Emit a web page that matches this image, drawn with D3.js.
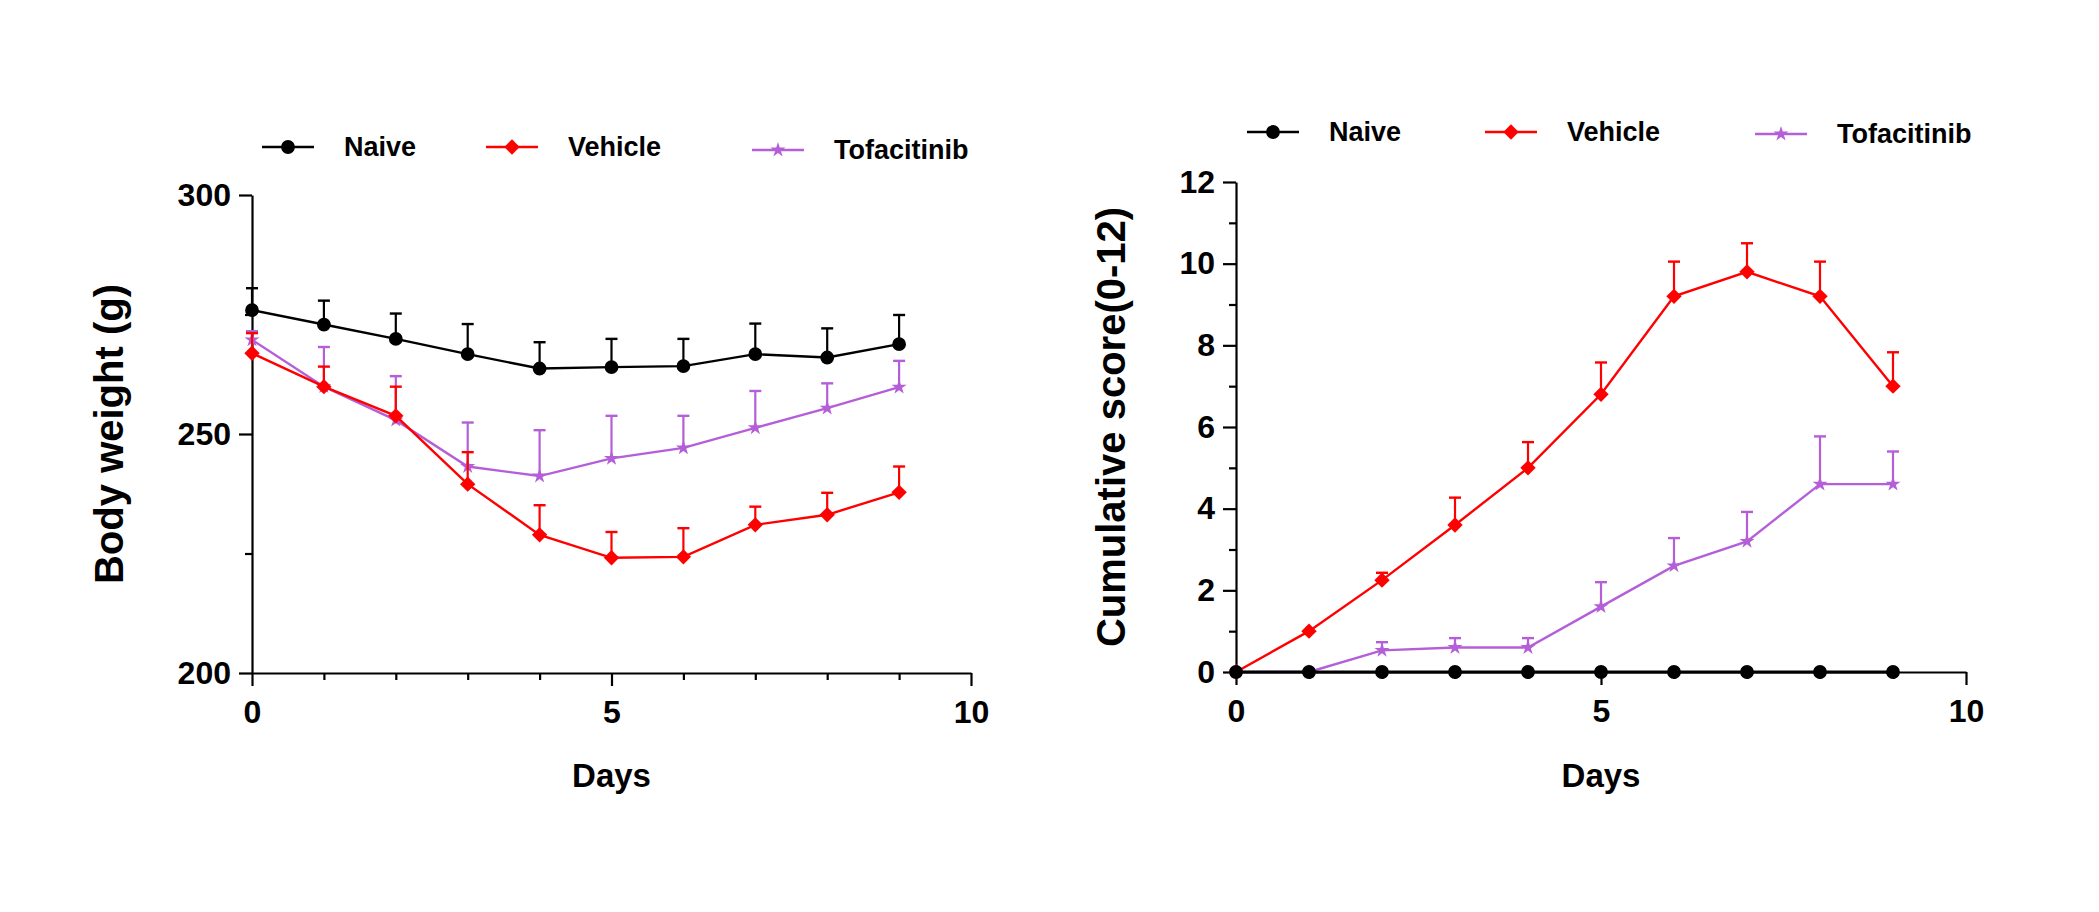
<!DOCTYPE html>
<html>
<head>
<meta charset="utf-8">
<script src="https://cdn.jsdelivr.net/npm/d3@7"></script>
<style>
  body { margin: 0; background: #fff; }
  svg { display: block; }
</style>
</head>
<body>
<div id="plot"></div>
<script>
// Days of treatment
var days = [0, 1, 2, 3, 4, 5, 6, 7, 8, 9];
var groups = ["Naive", "Vehicle", "Tofacitinib"];

// Body weight (g), mean and SEM (upper bar only)
var bwNaive = [275.9, 272.9, 269.9, 266.7, 263.7, 264.0, 264.2, 266.7, 266.0, 268.8];
var bwNaiveErr = [4.6, 5.0, 5.3, 6.3, 5.5, 5.9, 5.7, 6.4, 6.1, 6.1];
var bwVehicle = [266.9, 259.9, 253.8, 239.5, 228.9, 224.1, 224.3, 231.0, 233.1, 237.8];
var bwVehicleErr = [4.2, 4.2, 6.1, 6.7, 6.2, 5.4, 6.0, 3.8, 4.6, 5.4];
var bwTofa = [269.7, 259.9, 252.9, 243.2, 241.2, 244.9, 247.1, 251.3, 255.4, 259.8];
var bwTofaErr = [1.8, 8.3, 9.2, 9.2, 9.6, 8.9, 6.7, 7.7, 5.2, 5.5];

// Cumulative score (0-12), mean and SEM
var scNaive = [0, 0, 0, 0, 0, 0, 0, 0, 0, 0];
var scNaiveErr = [0, 0, 0, 0, 0, 0, 0, 0, 0, 0];
var scVehicle = [0, 1.0, 2.25, 3.6, 5.0, 6.8, 9.2, 9.8, 9.2, 7.0];
var scVehicleErr = [0, 0, 0.18, 0.67, 0.63, 0.78, 0.85, 0.7, 0.85, 0.83];
var scTofa = [0, 0, 0.53, 0.6, 0.6, 1.6, 2.6, 3.2, 4.6, 4.6];
var scTofaErr = [0, 0, 0.2, 0.23, 0.23, 0.6, 0.68, 0.72, 1.17, 0.8];

// Axis ticks
var xMajor = [0, 5, 10];
var xMinor = [1, 2, 3, 4, 6, 7, 8, 9];
var bwMajor = [200, 250, 300];
var bwMinor = [225, 275];
var scMajor = [0, 2, 4, 6, 8, 10, 12];
var scMinor = [1, 3, 5, 7, 9, 11];

var W = 2099, H = 912;
var font = "'Liberation Sans', Arial, sans-serif";
var colors = { Naive: "#000000", Vehicle: "#ff0000", Tofacitinib: "#b45fd8" };

var svg = d3.select("div#plot")
    .append("svg")
        .attr("width", W)
        .attr("height", H)
        .attr("viewBox", "0 0 " + W + " " + H);

svg.append("rect").attr("width", W).attr("height", H).attr("fill", "#fff");

function markerPath(name) {
    if (name == "Naive") return d3.symbol(d3.symbolCircle, 150)();
    if (name == "Vehicle") return d3.symbol(d3.symbolSquare, 118)();
    return d3.symbol(d3.symbolStar, 70)();
}
function markerRotate(name) {
    return name == "Vehicle" ? " rotate(45)" : "";
}

function drawPanel(p) {
    var x = d3.scaleLinear().domain([0, 10]).range(p.xRange);
    var y = d3.scaleLinear().domain(p.yDomain).range(p.yRange);
    var g = svg.append("g");

    // Axes: major ticks with labels, minor ticks without
    var xAxis = g.append("g")
        .attr("transform", "translate(0," + p.yRange[0] + ")")
        .call(d3.axisBottom(x).tickValues(xMajor).tickSize(13).tickSizeOuter(0).tickPadding(14)
            .tickFormat(d3.format("d")));
    g.append("g")
        .attr("transform", "translate(0," + p.yRange[0] + ")")
        .call(d3.axisBottom(x).tickValues(xMinor).tickSize(7).tickSizeOuter(0).tickFormat(""))
        .select(".domain").remove();

    var yAxis = g.append("g")
        .attr("transform", "translate(" + p.xRange[0] + ",0)")
        .call(d3.axisLeft(y).tickValues(p.yMajor).tickSize(13).tickSizeOuter(0).tickPadding(8)
            .tickFormat(d3.format("d")));
    g.append("g")
        .attr("transform", "translate(" + p.xRange[0] + ",0)")
        .call(d3.axisLeft(y).tickValues(p.yMinor).tickSize(7).tickSizeOuter(0).tickFormat(""))
        .select(".domain").remove();

    g.selectAll(".domain, .tick line")
        .attr("stroke", "#000")
        .attr("stroke-width", 2.2);
    g.selectAll(".tick text")
        .attr("font-family", font)
        .attr("font-weight", "bold")
        .attr("font-size", 32)
        .attr("fill", "#000");

    // Axis titles
    g.append("text")
        .attr("transform", "translate(" + p.titleX + "," + ((p.yRange[0] + p.yRange[1]) / 2) + ") rotate(-90)")
        .attr("text-anchor", "middle")
        .attr("font-family", font)
        .attr("font-weight", "bold")
        .attr("font-size", 40)
        .text(p.yTitle);
    g.append("text")
        .attr("x", (p.xRange[0] + p.xRange[1]) / 2)
        .attr("y", 787)
        .attr("text-anchor", "middle")
        .attr("font-family", font)
        .attr("font-weight", "bold")
        .attr("font-size", 33)
        .text("Days");

    // Series, drawn bottom to top: Tofacitinib, Vehicle, Naive
    p.series.slice().reverse().forEach(function(s) {
        var c = colors[s.name];
        var pts = days.map(function(d, i) { return { d: d, v: s.values[i], e: s.err[i] }; });
        var sg = g.append("g");

        var bars = sg.selectAll("g.err")
            .data(pts.filter(function(q) { return q.e > 0; }))
            .join("g").attr("class", "err");
        bars.append("line")
            .attr("x1", function(q) { return x(q.d); })
            .attr("x2", function(q) { return x(q.d); })
            .attr("y1", function(q) { return y(q.v); })
            .attr("y2", function(q) { return y(q.v + q.e); })
            .attr("stroke", c).attr("stroke-width", 2.2);
        bars.append("line")
            .attr("x1", function(q) { return x(q.d) - 6; })
            .attr("x2", function(q) { return x(q.d) + 6; })
            .attr("y1", function(q) { return y(q.v + q.e); })
            .attr("y2", function(q) { return y(q.v + q.e); })
            .attr("stroke", c).attr("stroke-width", 2.4);

        sg.append("path")
            .datum(pts)
            .attr("fill", "none")
            .attr("stroke", c)
            .attr("stroke-width", s.name == "Naive" && p.naiveThick ? 3.2 : 2.4)
            .attr("d", d3.line().x(function(q) { return x(q.d); }).y(function(q) { return y(q.v); }));

        sg.selectAll("path.mk")
            .data(pts)
            .join("path").attr("class", "mk")
            .attr("transform", function(q) {
                return "translate(" + x(q.d) + "," + y(q.v) + ")" + markerRotate(s.name);
            })
            .attr("d", markerPath(s.name))
            .attr("fill", c);
    });

    // Legend
    groups.forEach(function(name, i) {
        var mx = p.legendX[i], my = p.legendY[i];
        var c = colors[name];
        g.append("line")
            .attr("x1", mx - 26).attr("x2", mx + 26)
            .attr("y1", my).attr("y2", my)
            .attr("stroke", c).attr("stroke-width", 2.6);
        g.append("path")
            .attr("transform", "translate(" + mx + "," + my + ")" + markerRotate(name))
            .attr("d", markerPath(name))
            .attr("fill", c);
        g.append("text")
            .attr("x", mx + 56)
            .attr("y", my + 9)
            .attr("font-family", font)
            .attr("font-weight", "bold")
            .attr("font-size", 27)
            .text(name);
    });
}

drawPanel({
    xRange: [252, 971],
    yDomain: [200, 300],
    yRange: [673, 195],
    yMajor: bwMajor,
    yMinor: bwMinor,
    yTitle: "Body weight (g)",
    titleX: 123,
    legendX: [288, 512, 778],
    legendY: [147, 147, 150],
    naiveThick: false,
    series: [
        { name: "Naive", values: bwNaive, err: bwNaiveErr },
        { name: "Vehicle", values: bwVehicle, err: bwVehicleErr },
        { name: "Tofacitinib", values: bwTofa, err: bwTofaErr }
    ]
});

drawPanel({
    xRange: [1236, 1966],
    yDomain: [0, 12],
    yRange: [672, 182],
    yMajor: scMajor,
    yMinor: scMinor,
    yTitle: "Cumulative score(0-12)",
    titleX: 1125,
    legendX: [1273, 1511, 1781],
    legendY: [132, 132, 134],
    naiveThick: true,
    series: [
        { name: "Naive", values: scNaive, err: scNaiveErr },
        { name: "Vehicle", values: scVehicle, err: scVehicleErr },
        { name: "Tofacitinib", values: scTofa, err: scTofaErr }
    ]
});
</script>
</body>
</html>
